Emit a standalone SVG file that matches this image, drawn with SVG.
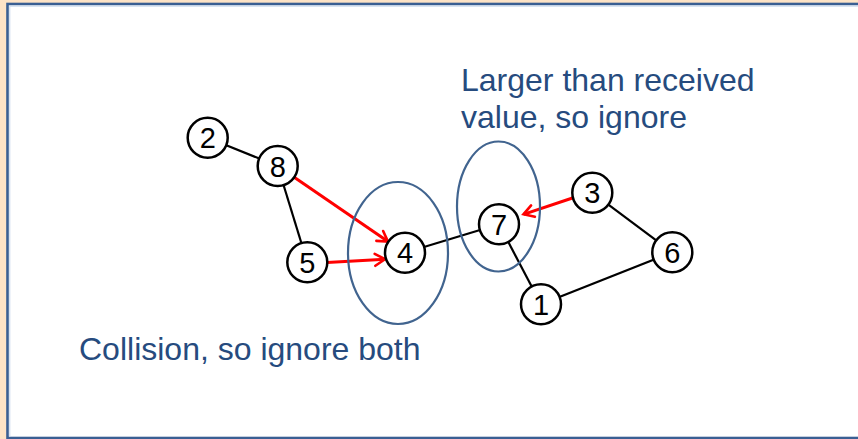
<svg xmlns="http://www.w3.org/2000/svg" width="858" height="439" viewBox="0 0 858 439">
<style>
.node circle{fill:#fff;stroke:#000;stroke-width:2.5}
.node text{font-family:"Liberation Sans",Arial,sans-serif;font-size:29px;fill:#000;text-anchor:middle}
.edge{stroke:#000;stroke-width:2.2;fill:none}
.msg{stroke:#f00;stroke-width:3;fill:none}
.hl{fill:none;stroke:#41648F;stroke-width:2.2}
.note{font-family:"Liberation Sans",Arial,sans-serif;font-size:32px;fill:#264B7E}
</style>
<defs>
<marker id="arr" markerUnits="userSpaceOnUse" markerWidth="14" markerHeight="14" refX="12" refY="7" orient="auto" overflow="visible">
<path d="M2,1 L12,7 L2,13" fill="none" stroke="#f00" stroke-width="2.6" stroke-linecap="round" stroke-linejoin="miter"/>
</marker>
</defs>
<rect x="0" y="0" width="858" height="439" fill="#FDE3C6"/>
<rect x="7.5" y="4" width="870" height="434" fill="#fff" stroke="#3A5F93" stroke-width="2.6"/>
<path d="M9.8,437 V6.2 H858" fill="none" stroke="#C9D8EC" stroke-width="1"/>
<g id="connectors">
<line class="edge" x1="207.7" y1="137.7" x2="277.7" y2="166"/>
<line class="edge" x1="277.7" y1="166" x2="307.3" y2="262.3"/>
<line class="edge" x1="405" y1="252.7" x2="499" y2="224.3"/>
<line class="edge" x1="499" y1="224.3" x2="541" y2="304.3"/>
<line class="edge" x1="541" y1="304.3" x2="672.3" y2="252.3"/>
<line class="edge" x1="592.3" y1="192.7" x2="672.3" y2="252.3"/>
<line class="msg" x1="294.2" y1="177.3" x2="388" y2="241.6" marker-end="url(#arr)"/>
<line class="msg" x1="327" y1="262.5" x2="385" y2="259.2" marker-end="url(#arr)"/>
<line class="msg" x1="574" y1="197.5" x2="523.5" y2="214.3" marker-end="url(#arr)"/>
</g>
<g id="n2" class="node"><circle cx="207.7" cy="137.7" r="20"/><text x="207.7" y="148.2">2</text></g>
<g id="n8" class="node"><circle cx="277.7" cy="166" r="20"/><text x="277.7" y="176.5">8</text></g>
<g id="n5" class="node"><circle cx="307.3" cy="262.3" r="20"/><text x="307.3" y="272.8">5</text></g>
<g id="n4" class="node"><circle cx="405" cy="252.7" r="20"/><text x="405" y="263.2">4</text></g>
<g id="n7" class="node"><circle cx="499" cy="224.3" r="20"/><text x="499" y="234.8">7</text></g>
<g id="n3" class="node"><circle cx="592.3" cy="192.7" r="20"/><text x="592.3" y="203.2">3</text></g>
<g id="n6" class="node"><circle cx="672.3" cy="252.3" r="20"/><text x="672.3" y="262.8">6</text></g>
<g id="n1" class="node"><circle cx="541" cy="304.3" r="20"/><text x="541" y="314.8">1</text></g>
<g id="highlights">
<ellipse class="hl" cx="398" cy="253" rx="50" ry="71"/>
<ellipse class="hl" cx="498.5" cy="206.5" rx="41.5" ry="65"/>
</g>
<g id="labels">
<text class="note" x="461" y="90.5">Larger than received</text>
<text class="note" x="461" y="127.5">value, so ignore</text>
<text class="note" x="79" y="360">Collision, so ignore both</text>
</g>
</svg>
